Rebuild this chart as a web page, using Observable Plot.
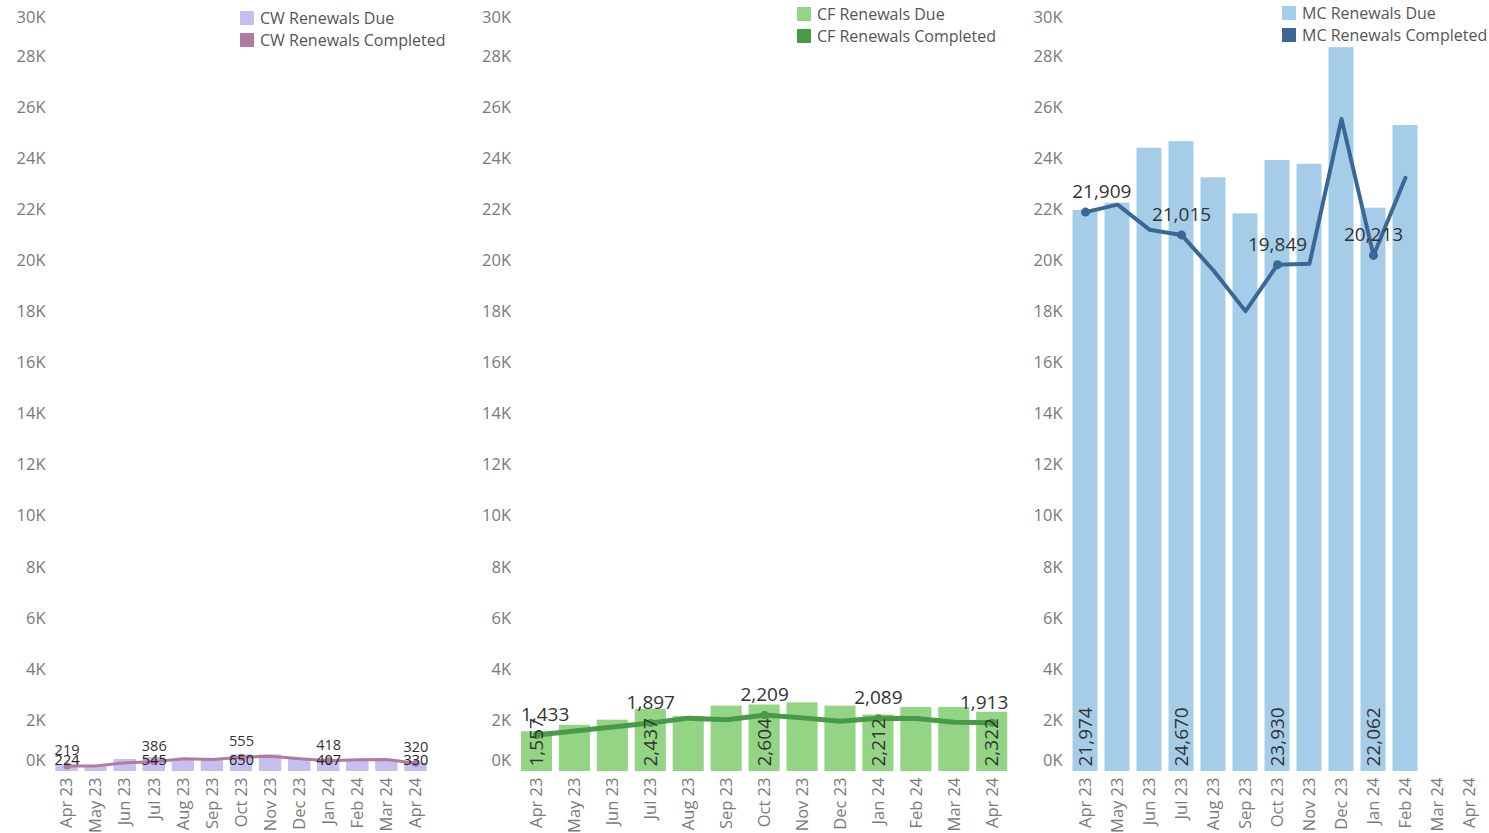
<!DOCTYPE html>
<html><head><meta charset="utf-8">
<script src="https://cdn.jsdelivr.net/npm/d3@7"></script>
<script src="https://cdn.jsdelivr.net/npm/@observablehq/plot@0.6"></script>
<style>
body{margin:0;background:#fff;font-family:"Open Sans",sans-serif;}
#wrap{position:relative;width:1489px;height:833px;overflow:hidden;background:#fff;}
.panel{position:absolute;top:0;}
.legend{position:absolute;font-size:16px;color:#555;line-height:22px;}
.legend .row{display:flex;align-items:center;height:22px;white-space:nowrap;}
.legend .sw{display:inline-block;width:14px;height:14px;margin-right:6px;}
</style></head><body><div id="wrap"></div>
<script>
const months = ["Apr 23","May 23","Jun 23","Jul 23","Aug 23","Sep 23","Oct 23","Nov 23","Dec 23","Jan 24","Feb 24","Mar 24","Apr 24"];
const yTicks = [0,2000,4000,6000,8000,10000,12000,14000,16000,18000,20000,22000,24000,26000,28000,30000];
const labelMonths = ["Apr 23","Jul 23","Oct 23","Jan 24","Apr 24"];

const cwDue       = [224,230,470,545,470,460,650,650,470,407,450,450,330];
const cwCompleted = [219,220,340,386,500,470,555,600,500,418,460,470,320];
const cfDue       = [1557,1810,2010,2437,2150,2560,2604,2690,2560,2212,2510,2510,2322];
const cfCompleted = [1433,1590,1740,1897,2090,2030,2209,2100,1970,2089,2080,1930,1913];
const mcDue       = [21974,22260,24410,24670,23250,21840,23930,23780,28350,22062,25300,null,null];
const mcCompleted = [21909,22200,21220,21015,19620,18030,19849,19890,25560,20213,23250,null,null];

const panels = [
  {key:"CW", due:cwDue, comp:cwCompleted, dueColor:"#c5bfef", compColor:"#b07aa1",
   left:0, width:470, ml:52, mr:40, pad:0.23, lw:3, r:3.5, fs:14.5, rotateDue:false,
   legend:{x:240, y:7}},
  {key:"CF", due:cfDue, comp:cfCompleted, dueColor:"#93d585", compColor:"#489a48",
   left:470, width:560, ml:47.5, mr:19.3, pad:0.18, lw:5, r:4, fs:19, rotateDue:true,
   legend:{x:797, y:3}},
  {key:"MC", due:mcDue, comp:mcCompleted, dueColor:"#a6cde8", compColor:"#3b6797",
   left:1030, width:459, ml:39, mr:4, pad:0.22, lw:4, r:4.5, fs:19, rotateDue:true,
   legend:{x:1282, y:2}}
];

const wrap = document.getElementById("wrap");
const fmtK = d => (d/1000) + "K";
const fmtN = d3.format(",");
const axisStyle = {tickSize:0, tickPadding:7, tickFormat:fmtK, label:null, fontSize:16.5, fill:"#7a7a7a"};

for (const p of panels) {
  const rows = months.map((m,i) => ({month:m, due:p.due[i], comp:p.comp[i]}));
  const dueRows = rows.filter(d => d.due != null);
  const compRows = rows.filter(d => d.comp != null);
  const labRows = compRows.filter(d => labelMonths.includes(d.month));
  const dueLabRows = dueRows.filter(d => labelMonths.includes(d.month));
  const step = (p.width - p.ml - p.mr) / months.length;

  // completed labels (kept inside the pane like the original)
  const compLabelMarks = labRows.map(d => {
    const idx = months.indexOf(d.month);
    const txt = fmtN(d.comp);
    const w = txt.length * p.fs * 0.55;
    const center = (idx + 0.5) * step;
    const total = months.length * step;
    let dx = 0;
    if (center - w/2 < 1) dx = 1 - (center - w/2);
    else if (center + w/2 > total - 1) dx = (total - 1) - (center + w/2);
    return Plot.text([d], {x:"month", y:"comp", text: r => fmtN(r.comp), dy: -(p.fs + 1), dx,
      fontSize:p.fs, fill:"#333", lineAnchor:"middle"});
  });

  const dueLabelMark = p.rotateDue
    ? Plot.text(dueLabRows, {x:"month", y:() => 0, text: r => fmtN(r.due), rotate:-90, textAnchor:"start",
        lineAnchor:"middle", dy:-5, fontSize:p.fs, fill:"#333"})
    : Plot.text(dueLabRows, {x:"month", y:() => 0, text: r => fmtN(r.due), dy:-11,
        lineAnchor:"middle", fontSize:p.fs, fill:"#222"});

  const chart = Plot.plot({
    width: p.width, height: 833,
    marginLeft: p.ml, marginRight: p.mr, marginTop: 5, marginBottom: 62,
    style: {fontFamily:"Open Sans, sans-serif", background:"transparent", overflow:"visible"},
    x: {type:"band", domain: months, paddingInner: p.pad, paddingOuter: p.pad/2, round:false, label:null},
    y: {domain:[0,30000], label:null},
    marks: [
      Plot.barY(dueRows, {x:"month", y:"due", fill:p.dueColor}),
      Plot.line(compRows, {x:"month", y:"comp", stroke:p.compColor, strokeWidth:p.lw, strokeLinejoin:"round", strokeLinecap:"round"}),
      Plot.dot(labRows, {x:"month", y:"comp", r:p.r, fill:p.compColor}),
      dueLabelMark,
      ...compLabelMarks,
      Plot.axisX({tickRotate:-90, tickSize:0, tickPadding:6, fontSize:16.5, fill:"#7a7a7a", label:null}),
      Plot.axisY(yTicks.filter(d => d > 0 && d < 30000), axisStyle),
      Plot.axisY(yTicks.filter(d => d === 0), {...axisStyle, dy:-11}),
      Plot.axisY(yTicks.filter(d => d === 30000), {...axisStyle, dy:12})
    ]
  });
  const div = document.createElement("div");
  div.className = "panel";
  div.style.left = p.left + "px";
  div.appendChild(chart);
  wrap.appendChild(div);

  const lg = document.createElement("div");
  lg.className = "legend";
  lg.style.left = p.legend.x + "px";
  lg.style.top = p.legend.y + "px";
  lg.innerHTML = `<div class="row"><span class="sw" style="background:${p.dueColor}"></span>${p.key} Renewals Due</div>`+
                 `<div class="row"><span class="sw" style="background:${p.compColor}"></span>${p.key} Renewals Completed</div>`;
  wrap.appendChild(lg);
}
</script></body></html>
